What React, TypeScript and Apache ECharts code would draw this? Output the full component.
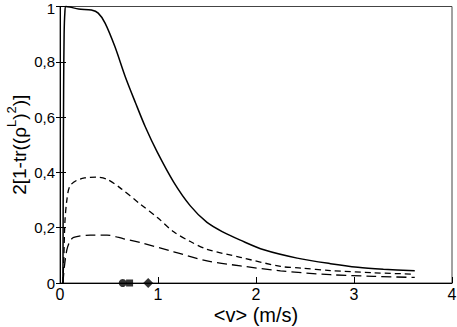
import React, { useEffect, useRef } from "react";
import * as echarts from "echarts";

const FONT = "'Liberation Sans', Arial, Helvetica, sans-serif";

// Solid curve
const solidV = [0.03, 0.033, 0.037, 0.042, 0.05, 0.06, 0.1, 0.19, 0.32, 0.39, 0.46, 0.56, 0.665, 0.77, 0.87, 0.99, 1.16, 1.33, 1.5, 1.67, 1.84, 2.08, 2.42, 2.76, 3.04, 3.3, 3.62];
const solidY = [0, 0.35, 0.7, 0.9, 0.98, 1.0, 0.998, 0.991, 0.987, 0.976, 0.94, 0.855, 0.747, 0.652, 0.565, 0.475, 0.365, 0.279, 0.219, 0.183, 0.155, 0.12, 0.09, 0.07, 0.057, 0.05, 0.044];

// Upper dashed curve (short dashes)
const dashAV = [0.03, 0.04, 0.05, 0.07, 0.1, 0.17, 0.25, 0.375, 0.48, 0.61, 0.82, 1.0, 1.16, 1.33, 1.5, 1.84, 2.25, 2.46, 2.76, 3.2, 3.62];
const dashAY = [0, 0.1, 0.22, 0.3, 0.35, 0.371, 0.38, 0.383, 0.375, 0.345, 0.285, 0.235, 0.185, 0.15, 0.122, 0.093, 0.06, 0.054, 0.045, 0.037, 0.032];

// Lower dashed curve (long dashes)
const dashBV = [0.03, 0.045, 0.07, 0.1, 0.14, 0.31, 0.48, 0.65, 0.82, 1.16, 1.5, 1.84, 2.25, 2.76, 3.2, 3.62];
const dashBY = [0, 0.06, 0.12, 0.15, 0.165, 0.173, 0.173, 0.16, 0.146, 0.113, 0.08, 0.062, 0.044, 0.03, 0.024, 0.02];

// Markers on the x axis
const markerV = [0.64, 0.71, 0.9];
const markerY = [0, 0, 0];
const markerSymbols = ["circle", "rect", "diamond"];
const markerSizes = [8, 7, 10];

const xTicks = { min: 0, max: 4, interval: 1 };
const yTicks = { min: 0, max: 1, interval: 0.2 };

const zip = (a: number[], b: number[]) => a.map((v, i) => [v, b[i]]);

export default function App() {
  const ref = useRef<HTMLDivElement>(null);
  useEffect(() => {
    if (!ref.current) return;
    const chart = echarts.init(ref.current, null, { renderer: "svg" });
    const yLabel = (v: number) => {
      const s = String(Math.round(v * 10) / 10).replace(".", ",");
      return v >= yTicks.max ? "{t|" + s + "}" : s;
    };
    chart.setOption({
      animation: false,
      backgroundColor: "#fff",
      textStyle: { fontFamily: FONT },
      grid: {
        left: 60,
        right: 5,
        top: 6.5,
        bottom: 44,
        show: true,
        borderColor: "#444",
        borderWidth: 1,
        containLabel: false,
        outerBoundsMode: "none",
      },
      xAxis: {
        type: "value",
        min: xTicks.min,
        max: xTicks.max,
        interval: xTicks.interval,
        axisLine: { lineStyle: { color: "#000", width: 1 } },
        axisTick: { inside: true, length: 6, lineStyle: { color: "#000" } },
        axisLabel: { color: "#000", fontSize: 16, fontFamily: FONT, margin: 3 },
        splitLine: { show: false },
        name: "<v> (m/s)",
        nameLocation: "middle",
        nameGap: 22,
        nameMoveOverlap: false,
        nameTextStyle: { color: "#000", fontSize: 20, lineHeight: 20, fontFamily: FONT },
      },
      yAxis: [
        {
          type: "value",
          min: yTicks.min,
          max: yTicks.max,
          interval: yTicks.interval,
          axisLine: { show: true, lineStyle: { color: "#000", width: 1 } },
          axisTick: { show: true, inside: true, length: 6, lineStyle: { color: "#000" } },
          axisLabel: {
            color: "#000",
            fontSize: 15,
            lineHeight: 12,
            fontFamily: FONT,
            margin: 5,
            formatter: yLabel,
            rich: { t: { fontSize: 15, lineHeight: 12, color: "#000", fontFamily: FONT, padding: [3, 0, 0, 0] } },
          },
          splitLine: { show: false },
          name: "{n|2[1-tr((ρ}{s|L}{n|)}{s|2}{n|)]}",
          nameLocation: "middle",
          nameRotate: 90,
          nameGap: 31,
          nameMoveOverlap: false,
          nameTextStyle: {
            color: "#000",
            fontFamily: FONT,
            rich: {
              n: { fontSize: 19, lineHeight: 24, fontFamily: FONT, color: "#000", verticalAlign: "bottom" },
              s: { fontSize: 13, lineHeight: 12, fontFamily: FONT, color: "#000", verticalAlign: "top" },
            },
          },
        },
        {
          type: "value",
          position: "left",
          min: yTicks.min,
          max: yTicks.max,
          interval: yTicks.interval,
          axisLine: { show: false },
          axisTick: { show: true, inside: false, length: 4, lineStyle: { color: "#000" } },
          axisLabel: { show: false },
          splitLine: { show: false },
        },
      ],
      series: [
        {
          type: "line",
          data: zip(solidV, solidY),
          showSymbol: false,
          smooth: 0.3,
          lineStyle: { color: "#000", width: 1.5 },
          clip: false,
        },
        {
          type: "line",
          data: zip(dashAV, dashAY),
          showSymbol: false,
          smooth: 0.3,
          lineStyle: { color: "#000", width: 1.3, type: [6, 4] },
        },
        {
          type: "line",
          data: zip(dashBV, dashBY),
          showSymbol: false,
          smooth: 0.3,
          lineStyle: { color: "#000", width: 1.3, type: [10, 5] },
        },
        ...markerV.map((v, i) => ({
          type: "scatter",
          data: [[v, markerY[i]]],
          symbol: markerSymbols[i],
          symbolSize: markerSizes[i],
          itemStyle: { color: "#000" },
          clip: false,
          z: 5,
        })),
      ],
    });
    return () => chart.dispose();
  }, []);
  return (
    <div
      ref={ref}
      style={{ position: "fixed", left: 0, top: 0, width: 457, height: 327, background: "#fff" }}
    />
  );
}
